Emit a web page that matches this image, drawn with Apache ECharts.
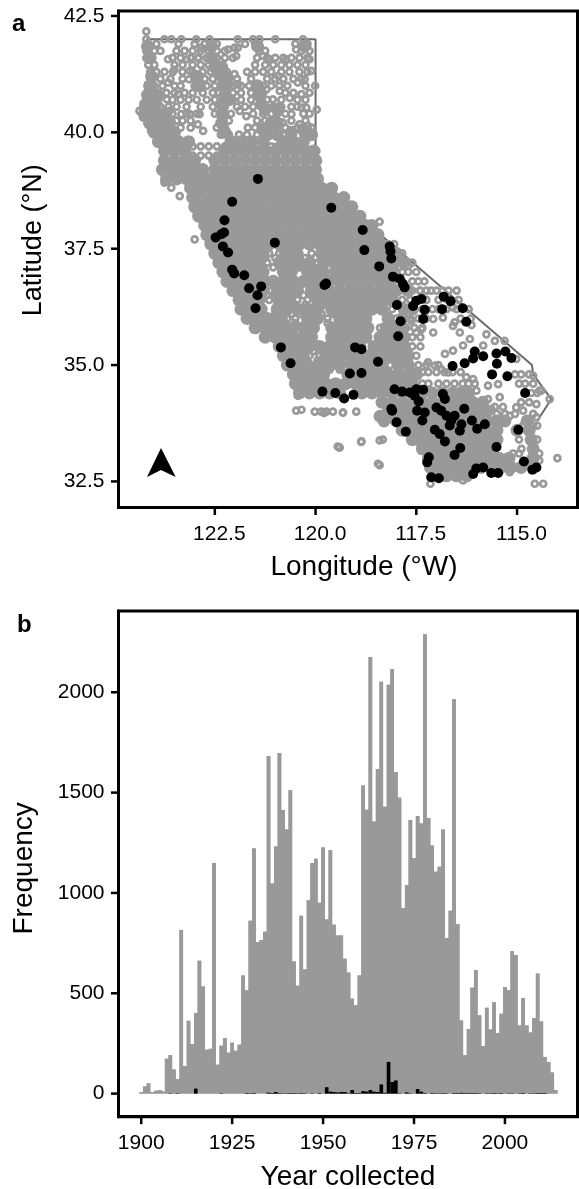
<!DOCTYPE html>
<html><head><meta charset="utf-8">
<style>html,body{margin:0;padding:0;background:#fff}#c{width:579px;height:1189px}</style>
<script src="https://cdn.jsdelivr.net/npm/echarts@6/dist/echarts.min.js"></script>
</head><body><div id="c"></div>
<script>
// Panel a — visible part of the state outline [lon W, lat N]
const outline = [[124.2,42],[120,42],[120,39],[114.63,35],[114.6,34.8],[114.15,34.27],[114.5,33.8]];
// Areas where records overlap completely: [lat, lon, lon, ...]
const overlapRows = [
[41.85,124.17,122.58,121.44,120.27],[41.6,124.12,122.58],[41.4,122.33,122.5],[41.3,122.4],[41.2,124.07,122.93,122.25],[41,124.12,122.88,122.25,121.44],[40.9,121.4],
[40.8,124.17,123.92,122.25,121.4],[40.7,122.15],[40.6,124.22,123.97,122.33,121.34],[40.5,121.25,120.95],[40.4,124.25,124,123.75,122.33],[40.2,124.12,123.88,123.62,122.33,121.1,120.95],[40.05,120.3,121.3],[40,124,123.75,123.5,122.25,120.6],[39.95,121.2,120.95,120.1],
[39.8,123.9,123.65,123.4,123.15,122.1,121.85,121.6,121.3,120.8,120.55,120.3],
[39.6,123.75,123.5,123.25,122.25,122,121.75,121.5,121.25,121,120.75,120.5,120.25,120.05],
[39.4,123.75,123.5,123.25,123,122.5,122.25,122,121.75,121.5,121.25,121,120.75,120.5,120.25,120],
[39.2,123.8,123.55,123.3,123.05,122.8,122.5,122.25,122,121.75,121.5,121.25,121,120.75,120.5,120.25,120],
[39,123.7,123.45,123.2,122.95,122.7,122.45,122.2,121.95,121.7,121.45,121.2,120.95,120.7,120.45,120.2,119.95],
[38.8,123.1,122.85,122.6,122.35,122.1,121.85,121.6,121.35,121.1,120.85,120.6,120.35,120.1,119.85,119.6],
[38.6,123.05,122.8,122.55,122.3,122.05,121.8,121.55,121.3,121.05,120.8,120.55,120.3,120.05,119.8,119.55,119.3],
[38.4,123,122.75,122.5,122.25,122,121.75,121.5,121.25,121,120.75,120.5,120.25,120,119.75,119.5,119.25,119.1],
[38.2,122.9,122.65,122.4,122.15,121.9,121.65,121.4,121.15,120.9,120.65,120.4,120.15,119.9,119.65,119.4,119.15,118.9],
[38,122.75,122.5,122.25,122,121.75,121.5,121.25,121,120.75,120.5,120.25,120,119.75,119.5,119.25,119,118.75,118.6],
[37.8,122.7,122.45,122.2,121.95,121.7,121.45,121.2,120.95,120.7,120.45,120.2,119.95,119.7,119.45,119.2,118.95,118.7,118.45],
[37.6,122.6,122.35,122.1,121.85,121.6,121.35,121.15,120.9,120.65,120.4,120.15,119.9,119.65,119.4,119.15,118.9,118.65,118.4],
[37.4,122.5,122.25,122,121.75,121.5,121.3,120.75,120.5,119.85,119.6,119.35,119.1,118.85,118.6,118.35,118.15,118],
[37.2,122.4,122.15,121.9,121.65,121.4,120.9,120.65,120.4,120.15,119.8,119.55,119.3,119.05,118.8,118.55,118.3,118.05,117.8],
[37,122.3,122.05,121.8,121.55,121.3,120.8,120.6,120.2,120,119.8,119.5,119.25,119,118.75,118.5,118.25,118.05],
[36.8,122.2,121.95,121.7,121.45,121.25,121.05,120.8,120.55,120.3,120.05,119.9,119.65,119.4,119.15,118.9,118.65,118.4,118.15],
[36.6,122.05,121.8,121.55,121.3,120.95,120.7,120.45,120.1,119.9,119.65,119.4,119.15,118.9,118.65,118.4,118.2,118,117.7],
[36.4,121.9,121.65,121.4,120.9,120.65,119.95,119.75,119.5,119.25,119,118.75,118.5,118.25,118.1],
[36.2,121.85,121.6,121.35,120.95,120.7,120.45,120.2,119.95,119.6,119.35,119.1,118.85,118.6,118.35,117.8,117.6],
[36,121.7,121.45,121.2,120.85,120.2,119.95,119.4,119.25,119,118.75,118.2,117.85],
[35.8,121.5,121.25,121.05,120.8,120.55,120.3,120.05,119.6,119.35,119.2,118.95,118.7,118.25,118.05,117.85],
[35.6,121.25,121,120.75,120.55,120.3,120.1,119.6,119.4,119.25,119,118.75,118.4,118.2,118,117.8],
[35.4,120.9,120.65,120.4,120.15,119.9,119.65,119.4,119.2,118.9,118.55,118.3,118.05,117.8],
[35.2,120.8,120.55,120.3,119.75,119.5,119.35,119.15,118.9,118.65,118.4,118.15,117.9,117.7],
[35,120.7,120.45,120.2,119.9,119.65,119.4,119.1,118.85,118.6,118.35,117.95,117.7],
[34.8,120.55,120.3,120.05,119.8,119.2,118.95,118.7,118.45,118.2,117.95,117.7,117.5],
[34.6,120.5,120.25,120,119.75,119.5,119.25,119,118.75,118.5,118.25,118,117.75,117.6],
[34.4,120.4,120.15,119.9,119.65,119.4,118.85,118.6,118.35,118.1,117.85,117.6,117.35,117.1,116.85,116.6,116.4,116.2],
[34.2,118.35,118.1,117.85,117.6,117.35,117.1,116.85,116.6,116.35,116.1,115.85],
[34,118.2,117.95,117.7,117.45,117.2,116.95,116.7,116.45,116.2,115.95,115.75],
[33.9,118.4,118.15],
[33.8,118.3,118,117.75,117.5,117.25,117,116.75,116.5,116.25,116,115.75,115.5,115.3,114.75],
[33.6,117.85,117.65,117.4,117.15,116.9,116.65,116.4,116.15,115.95,115.75,115.5,115,114.7],
[33.4,117.6,117.45,117.2,116.95,116.7,116.45,116.2,115.95,115.7,115.5,114.65],
[33.2,117.35,117.1,116.85,116.6,116.35,116.1,115.85,115.6,114.6],
[33,117.2,116.95,116.7,116.45,116.2,115.95,115.7,115.45,115.2,114.6],
[32.8,117.15,116.9,116.65,116.4,116.15,115.9,115.65,115.4,115.15,114.9,114.6],
[32.62,117,116.75,116.5,116.25]];
// Individually visible records (open circles): [lat, lon, lon, ...]
const recordRows = [
[41.75,124.2,124,123.85,123.45,123.25,123.05,122.85,122.65,122.45,122.25,121.4,121.25,120.35,120.15],
[41.6,124.2,124.05,123.55,123.35,123.1,122.9,122.7,122.45,122.25,122.05,121.45,121.2,121,120.8,120.6,120.4,120.2],
[41.45,124.15,124,123.5,123.3,123.05,122.85,122.65,122.4,121.5,121.25,121.05,120.85,120.65,120.45,120.25],
[41.3,124.1,123.95,123.75,123.3,123.05,122.8,122.6,122.4,122.2,121.7,121.5,121.3,121.1,120.85,120.65,120.4,120.2],
[41.15,124.05,123.85,123.6,123.3,123,122.75,122.55,122.35,122.15,121.95,121.6,121.2,121,120.8,120.55,120.35],
[41,124,123.8,123.5,123.35,123,122.7,122.5,122.35,122.05,121.85,121.65,121.3,121.1,120.9,120.7,120.25],
[40.85,124.1,123.9,123.7,123.5,123.25,123.05,122.8,122.55,122.4,122.05,121.85,121.6,121.3,120.75,120.55,120.15],
[40.7,124.1,123.9,123.55,123.35,123.15,122.95,122.7,122.5,122.3,122.05,121.85,121.6,121.2,120.85,120.45,120.25],
[40.55,124.05,123.85,123.65,123.45,123.2,122.85,122.55,122.25,121.95,121.75,121.55,121.05,120.85,120.6,120.45],
[40.4,124,123.8,123.55,123.2,122.95,122.5,122.25,122.1,121.55,121.3,121.1,120.95,120.75,120.3,120.15],
[40.25,123.9,123.7,123.45,123.3,123.1,122.15,121.45,121.25,121,120.6,120.25],
[40.1,123.85,123.6,123.35,123.1,122.45,122.25,121.5,121.35,121.15,120.95,120.75,120.45,120.3,120.1],
[39.95,123.7,123.5,122.35,122.15,121.9,121.7,121.45,121.25,121,120.8,120.3,120.05],
[39.7,123.05,122.85,122.65,122.45,122.25,121.1,120.95],
[39.5,123.05,122.85,122.65,122.45],
[37.4,121.15,120.9,120.6,120.4,120.1],[37.3,121.25,121,120.75,120.5,120.25,120],
[37.2,121.2,120.95,120.7,120.5,120.2,119.95],[37.1,121.05,120.85,120.6,120.4,120.15,119.9],
[36.6,121.1,120.9,120.65,120.4,120.15],[36.5,121.2,121,120.8,120.55,120.3,120.05,119.9],
[36.4,121.15,120.95,120.7,120.45,120.2],[36.3,120.95,120.7,120.5,120.25,120,119.75],
[36.1,121,120.85,120.6,120.4,120.15,119.85,119.6],
[36,120.95,120.7,120.5,120.2,119.95,119.7],[35.9,121,120.75,120.5,120.25,120,119.7,119.45],
[35.4,120.25,120,119.8,119.55],[35.3,120.05,119.8,119.55,119.3],
[35.2,120.15,119.9,119.65,119.4],[35.1,119.95,119.7,119.45,119.2],
[35,120,119.8,119.55],[34.9,119.95,119.65,119.4],
[37.6,118.2,118.05],[37.4,118,117.85],[37.2,117.9,117.75,117.6],[37,117.85,117.7,117.5],
[36.8,117.85,117.6,117.45,117.3],[36.6,117.8,117.6,117.4,117.25,117,116.85,116.7,116.5],
[36.4,117.85,117.65,117.45,117.25,116.95,116.45],[36.2,118.1,117.85,117.7,117.55,117.35,117.1,116.95,116.75,116.5,116.2],
[36,118,117.8,117.65,117.45,117.25,116.4,116.15],[35.8,118.4,118.15,117.95,117.75,117.55,117.35],
[35.6,118.4,118.2,118,117.8,117.6,117.4],[35.4,118.55,118.3,118.05,117.8,117.6,117.4],
[35.2,118.4,118.15,117.95,117.7,117.5],[35,118.15,117.9,117.65,117.45,117.25,116.95],
[34.85,117.55,117.35,117.2,117,116.8,116.6,116.4],[34.6,117.35,117.2,116.95,116.75,116.55,116.35,116.2,116.05],
[34.1,115.55,115.35],[33.95,115.5,115.3],
[34.8,115.05,114.9,114.7],[34.6,114.95,114.8,114.6],[34.4,114.65,114.5],[34.2,114.9,114.7],[33.95,115.05,114.6],[33.7,114.6,114.5],[33.4,114.95,114.5],[33.1,115.1,114.95,114.45],[32.95,114.45]];
const recordPoints = [
[124.2,42.17],[124.2,42],[123.75,42],[123.58,42],[123.33,42],[122.96,42],[122.63,42],[121.93,42],[121.55,42],[121.39,42],[121,42],[120.31,42],
[124.15,41.9],[123.95,41.9],[123.4,41.9],[123,41.9],[122.75,41.9],[122.45,41.9],[121.75,41.9],[121.5,41.9],[120.5,41.9],[120.2,41.9],
[123.66,41.57],[123.5,41.35],[123.54,41.3],[123.19,41.57],[123.12,41.32],[123.14,41.14],[122.92,41.6],[122.84,41.82],[122.17,41.78],[122.01,41.82],[121.93,41.82],[121.97,41.64],[122.01,41.25],[121.93,41.03],[122.13,41.03],[121.3,41.64],[121.14,41.57],[120.73,41.57],[120.93,41.21],[121.22,40.92],[120.89,40.89],[121.06,40.71],[120.64,40.74],[120.44,41.07],[120.35,40.82],[120.35,40.53],[120.23,40.53],[120.01,41],[119.97,40.49],[120.11,41.32],[120.27,41.14],[120.48,41.78],[120.15,41.57],[120.6,40.39],[120.81,40.21],[120.4,40.17],[120.19,40.14],[121.68,40.1],[121.88,40.46],[121.72,40.35],[122.79,40.03],[122.92,40.17],[122.88,40.39],[123.12,40.39],[123.33,40.39],[123.69,40.71],[123.62,40.46],[123.41,40.82],[123.66,41.07],[124.37,40.46],[124.28,40.32],[124.08,40.03],[123.75,38.92],[123.58,38.81],[123.37,38.63],[123,37.7],[119.94,39.38],[119.98,39.6],
[118.41,38.08],[118.49,37.81],[117.7,37.13],[117.41,36.6],[117.13,36.6],[117.08,35.7],[116.84,36.02],[116.55,35.92],[116.59,35.84],[116.42,35.7],[116.13,35.86],[115.76,35.66],[116.17,35.56],[116.34,35.42],[116.59,35.31],[116.79,35.24],[115.84,35.42],[115.55,35.52],[115.31,35.52],[117.21,35.06],[117.04,34.99],[116.88,34.91],[116.71,34.84],[116.26,34.74],[116.09,34.7],[115.72,34.56],[115.47,34.59],[115.02,35.13],[114.6,34.77],[114.4,34.45],[114.19,34.27],[114.52,34.16],[114.44,34.45],[115.02,34.09],[114.85,34.02],[114.52,33.88],[115.18,33.91],[114.85,33.7],[115.43,34.31],[115.72,34.27],[116.01,34.45],[116.34,34.45],[115.64,34.06],[115.47,33.84],[114.89,33.2],[114.73,33.84],[114,33],[114.56,32.45],[114.35,32.45],[117.15,32.45],[116.34,32.52],[115.18,32.7],[118.86,33.36],[118.41,33.38],[118.33,33.4],[118.45,32.88],[118.41,32.85],[119.32,33.98],[119.4,33.23],[117.08,35.99],[116.75,36.42],[116.59,36.24],[117.5,35.7],[117.37,35.77],[117.62,35.95],
[120.44,34.34],[120.48,34.02],[120.35,34.04],[120.02,34],[119.86,34],[119.79,33.97],[119.73,34],[119.57,34],[119.32,33.98],[118.99,34],[119.45,33.25],[119.42,33.23],[118.87,33.35]];
// Records of the focal group (filled black): [lon W, lat N]
const focalPoints = [
[121.43,39],[122.07,38.51],[122.26,38.11],[122.27,37.85],[122.34,37.81],[122.48,37.74],[122.3,37.55],[122.17,37.42],[121.01,37.63],[119.61,38.38],
[118.79,37.47],[119.78,36.72],[119.74,36.75],[122.07,37.05],[122.02,36.97],[121.77,36.93],[121.65,36.65],[121.35,36.69],[121.44,36.5],[121.49,36.22],[120.86,35.38],[120.62,35.04],[119.02,35.38],[118.86,35.34],[119.15,34.82],[118.86,34.83],[119.83,34.43],[119.51,34.4],[119.29,34.28],[119.06,34.36],
[118.83,37.9],[118.16,37.55],[118.14,37.44],[118.12,37.29],[118.42,37.12],[118.08,36.9],[117.91,36.85],[117.83,36.74],[117.79,36.67],[117.37,36.42],[117.5,36.38],[117.58,36.27],[117.29,36.19],[117.33,35.99],[116.82,36.47],[116.65,36.37],[116.86,36.2],[116.35,36.22],[116.26,35.93],[117.98,36.29],[117.89,35.94],[117.95,35.62],[118.45,35.07],[116.6,34.98],[116.3,35.04],[116.05,35.29],[116.09,35.14],[115.84,35.19],[115.51,35.25],[115.29,35.29],[115.14,35.15],[115.5,35.03],[115.62,34.8],[115.24,34.76],[114.8,34.4],
[118.04,34.48],[117.85,34.43],[117.66,34.41],[117.5,34.48],[117.33,34.47],[117.54,34.34],[117.44,34.22],[118.12,34.06],[118.1,34.02],[117.48,34.02],[117.29,33.98],[117.99,33.77],[117.35,33.81],[117.76,33.57],[117.04,33.61],[116.92,33.52],[116.79,33.36],[116.84,34.38],[116.79,34.27],[117,34.09],[116.88,34.02],[116.75,33.91],[116.63,33.81],[116.67,33.7],[116.55,33.91],[116.38,33.73],[116.42,33.59],[116.31,34.06],[116.12,33.81],[115.99,33.63],[115.8,33.73],[114.97,33.61],[115.51,33.24],[116.41,33.22],[116.55,33.07],[117.19,33.02],[117.23,32.91],[117.13,32.59],[116.94,32.57],[116.09,32.66],[116.01,32.78],[115.84,32.8],[115.64,32.68],[115.47,32.68],[114.83,32.93],[114.62,32.75],[114.52,32.8]];
const lonTicks = [122.5,120,117.5,115];
const latTicks = [32.5,35,37.5,40,42.5];
// Panel b — counts per year, 1900..2014
const firstYear = 1900;
const allCounts = [7,36,51,8,15,17,8,174,192,120,73,815,138,363,247,402,662,534,219,224,1149,144,239,277,204,254,214,244,589,515,861,1222,755,765,807,1682,1047,1232,1697,1413,1316,1512,659,538,886,619,964,1149,1170,951,1227,868,1213,842,788,788,672,603,473,440,589,1535,1414,2176,1356,1618,2053,1429,2037,2116,1602,1474,925,1038,1364,1174,1383,1346,2289,1373,1237,1106,1130,1316,775,911,1965,845,364,191,322,528,616,390,237,428,320,455,302,398,531,515,710,691,340,476,340,304,377,598,360,183,158,105,18];
const focalCounts = [0,0,0,0,0,0,0,0,2,0,2,0,0,0,0,25,0,0,0,0,0,0,2,0,0,0,0,0,0,3,2,3,0,0,0,5,3,8,3,2,2,3,3,2,3,2,0,2,0,3,0,32,10,8,6,8,8,2,18,3,3,13,10,18,10,8,46,4,158,58,66,2,0,6,2,0,23,10,3,0,3,2,2,3,2,0,3,3,4,3,3,3,3,2,0,2,2,3,2,3,0,2,2,0,2,3,0,2,2,3,3,3,0,0,0];
const yearTicks = [1900,1925,1950,1975,2000];
const freqTicks = [0,500,1000,1500,2000];

const overlapData = [];
overlapRows.forEach(r => r.slice(1).forEach(lon => overlapData.push([lon, r[0]])));
const ringData = recordPoints.slice();
recordRows.forEach(r => r.slice(1).forEach(lon => ringData.push([lon, r[0]])));
const yearIdx = allCounts.map((_, i) => firstYear + i);
const GREY = '#999999';
const FONT = '"Liberation Sans",Arial,sans-serif';
const txt = {color:'#000', fontFamily:FONT};
const LON = [113.5,124.89], LAT = [31.94,42.607], YEAR = [1893.75,2019.95], FREQ = [-115,2405];
const G0 = {left:118.5, top:11, width:459, height:496.5}, G1 = {left:118.5, top:611, width:459, height:505.7};
function axis(extra, ticks, fmt, labelExtra, nameExtra){
  return Object.assign({
    type:'value', splitLine:{show:false}, axisLine:{show:true, onZero:false, lineStyle:{color:'#000',width:3}},
    axisTick:{show:false},
    axisLabel:Object.assign({}, txt, {fontSize:21, margin:16, customValues:ticks, formatter:fmt, hideOverlap:false}, labelExtra||{}),
    nameLocation:'middle', nameTextStyle:Object.assign({}, txt, {fontSize:28}, nameExtra||{})
  }, extra);
}
// continuous backing of the histogram so that adjoining bars show no seam
const histBacking = [[firstYear-0.5,allCounts[0]]].concat(yearIdx.map((y,i)=>[y,allCounts[i]]),[[firstYear+allCounts.length-0.5,allCounts[allCounts.length-1]]]);
// Tick marks: positions follow the same linear scales as the axes
const W = 2.5, L = 7.5, HALF = W/2;
function xTick(px, py){ return {type:'polygon', z:50, zlevel:1, silent:true, shape:{points:[[px-HALF,py],[px+HALF,py],[px+HALF,py+L],[px-HALF,py+L]]}, style:{fill:'#000'}}; }
function yTick(px, py){ return {type:'polygon', z:50, zlevel:1, silent:true, shape:{points:[[px,py-HALF],[px,py+HALF],[px-L,py+HALF],[px-L,py-HALF]]}, style:{fill:'#000'}}; }
const els = [
  {type:'polygon', z:50, zlevel:1, silent:true, shape:{points:[[161,448],[147,477],[161,470],[175.7,477]]}, style:{fill:'#000'}},
  {type:'text', z:50, zlevel:1, silent:true, left:12, top:12, style:{text:'a', font:'bold 24px '+FONT, fill:'#000'}},
  {type:'text', z:50, zlevel:1, silent:true, left:17, top:613, style:{text:'b', font:'bold 24px '+FONT, fill:'#000'}}
];
lonTicks.forEach(v => els.push(xTick(G0.left + (LON[1]-v)/(LON[1]-LON[0])*G0.width, G0.top+G0.height)));
latTicks.forEach(v => els.push(yTick(G0.left, G0.top + (LAT[1]-v)/(LAT[1]-LAT[0])*G0.height)));
yearTicks.forEach(v => els.push(xTick(G1.left + (v-YEAR[0])/(YEAR[1]-YEAR[0])*G1.width, G1.top+G1.height)));
freqTicks.forEach(v => els.push(yTick(G1.left, G1.top + (FREQ[1]-v)/(FREQ[1]-FREQ[0])*G1.height)));
const chart = echarts.init(document.getElementById('c'), null, {renderer:'canvas'});
chart.setOption({
  animation:false, backgroundColor:'#fff',
  grid:[
    Object.assign({show:true, outerBoundsMode:'none', containLabel:false, borderColor:'#000', borderWidth:3, backgroundColor:'transparent'}, G0),
    Object.assign({show:true, outerBoundsMode:'none', containLabel:false, borderColor:'#000', borderWidth:3, backgroundColor:'transparent'}, G1)
  ],
  xAxis:[
    axis({gridIndex:0, min:LON[0], max:LON[1], inverse:true, name:'Longitude (°W)', nameGap:46}, lonTicks, v=>v.toFixed(1), {padding:[0,0,0,9]}, {padding:[0,0,0,32]}),
    axis({gridIndex:1, min:YEAR[0], max:YEAR[1], name:'Year collected', nameGap:47}, yearTicks, v=>String(v))
  ],
  yAxis:[
    axis({gridIndex:0, min:LAT[0], max:LAT[1], name:'Latitude (°N)', nameGap:71}, latTicks, v=>v.toFixed(1), {margin:14}, {padding:[0,0,0,38], fontSize:27}),
    axis({gridIndex:1, min:FREQ[0], max:FREQ[1], name:'Frequency', nameGap:80}, freqTicks, v=>String(v), {margin:14}, {padding:[0,9,0,0]})
  ],
  series:[
    {type:'line', xAxisIndex:0, yAxisIndex:0, data:outline, symbol:'none', silent:true, z:1, lineStyle:{color:'#6b6b6b', width:2}},
    {type:'scatter', xAxisIndex:0, yAxisIndex:0, data:overlapData, symbol:'circle', symbolSize:13, z:2, silent:true, progressive:0, itemStyle:{color:GREY, opacity:1}},
    {type:'scatter', xAxisIndex:0, yAxisIndex:0, data:ringData, symbol:'circle', symbolSize:6, z:3, silent:true, progressive:0, itemStyle:{color:'transparent', borderColor:GREY, borderWidth:2.7, opacity:1}},
    {type:'scatter', xAxisIndex:0, yAxisIndex:0, data:focalPoints, symbol:'circle', symbolSize:10, z:4, silent:true, progressive:0, itemStyle:{color:'#000', opacity:1}},
    {type:'line', xAxisIndex:1, yAxisIndex:1, data:histBacking, step:'middle', symbol:'none', silent:true, z:1, lineStyle:{width:0}, areaStyle:{color:GREY, opacity:1}},
    {type:'bar', xAxisIndex:1, yAxisIndex:1, data:yearIdx.map((y,i)=>[y,allCounts[i]]), barWidth:3.64, barGap:'-100%', z:2, silent:true, progressive:0, itemStyle:{color:GREY}},
    {type:'bar', xAxisIndex:1, yAxisIndex:1, data:yearIdx.map((y,i)=>[y,focalCounts[i]]), barWidth:3.64, barGap:'-100%', z:3, silent:true, progressive:0, itemStyle:{color:'#000'}}
  ],
  graphic:{elements:els}
});
</script></body></html>
